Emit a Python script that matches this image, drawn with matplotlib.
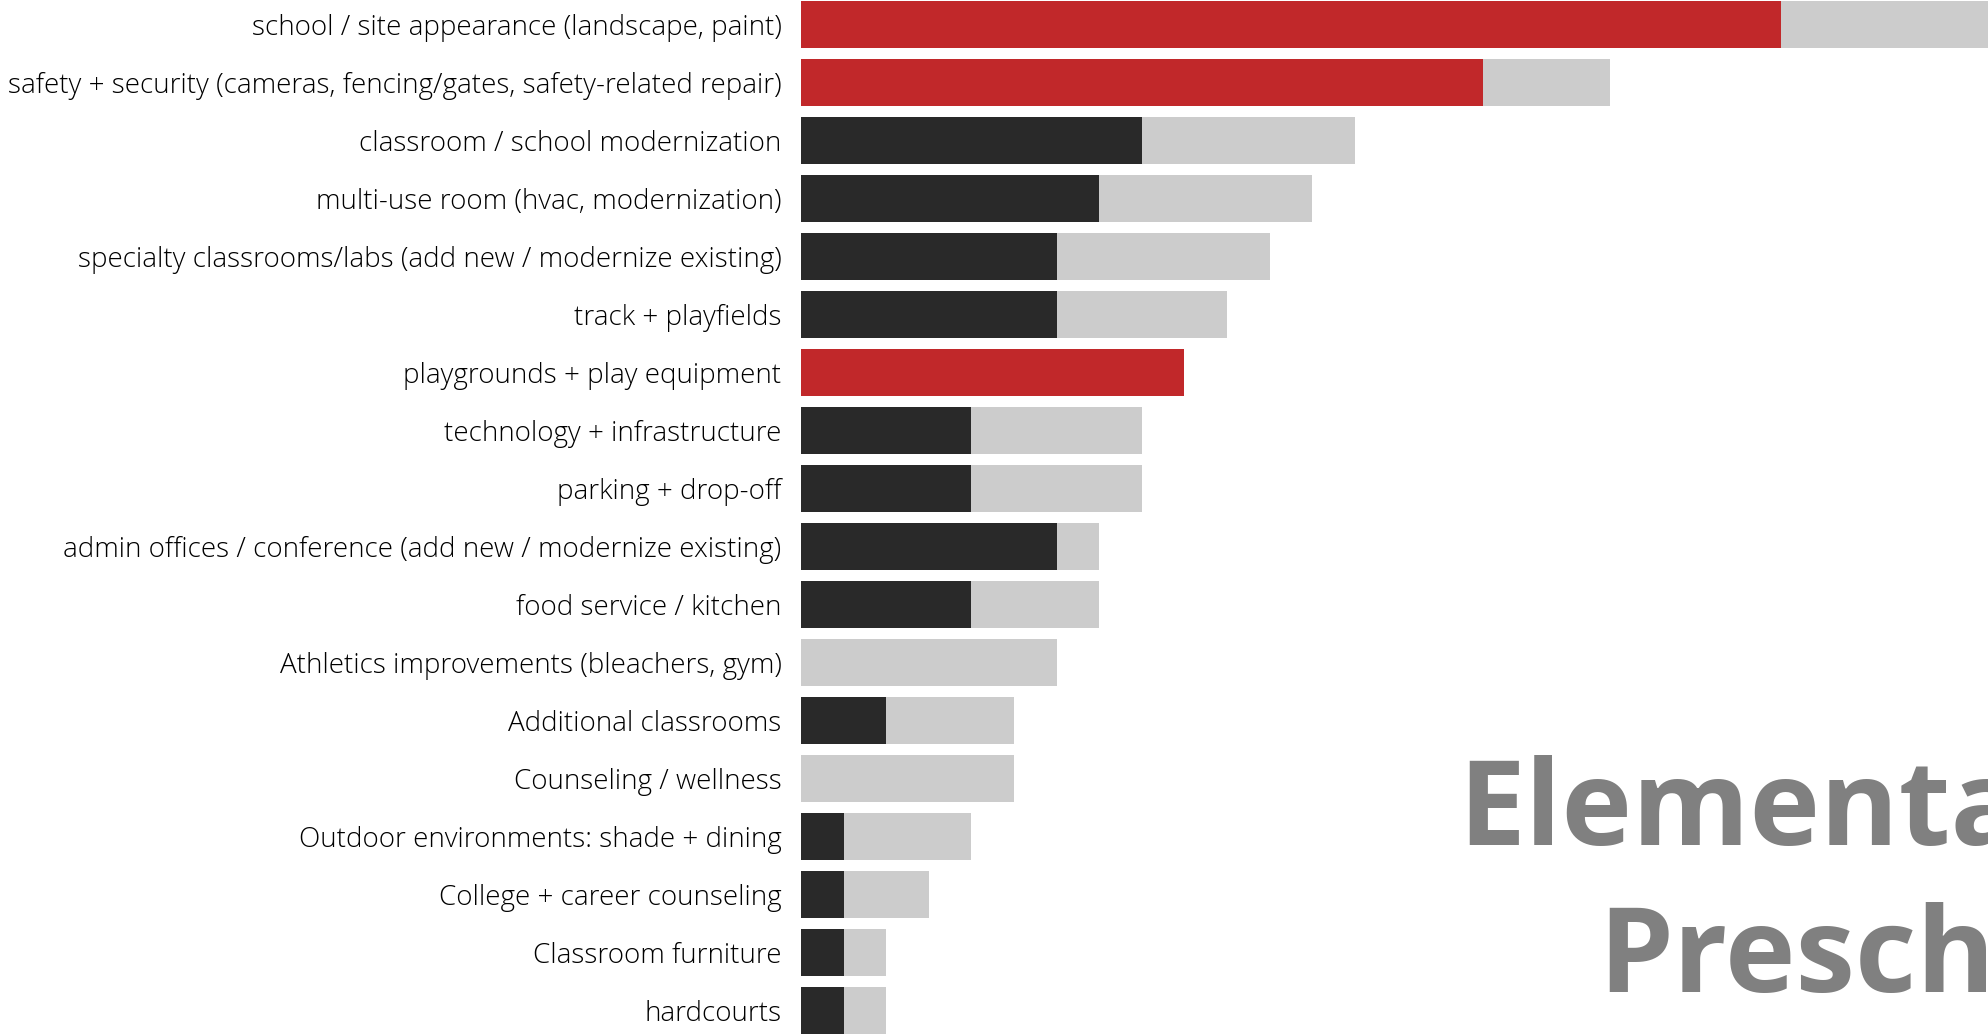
import matplotlib
matplotlib.use('Agg')
import matplotlib.pyplot as plt

# project categories, top to bottom
categories = [
    'school / site appearance (landscape, paint)',
    'safety + security (cameras, fencing/gates, safety-related repair)',
    'classroom / school modernization',
    'multi-use room (hvac, modernization)',
    'specialty classrooms/labs (add new / modernize existing)',
    'track + playfields',
    'playgrounds + play equipment',
    'technology + infrastructure',
    'parking + drop-off',
    'admin offices / conference (add new / modernize existing)',
    'food service / kitchen',
    'Athletics improvements (bleachers, gym)',
    'Additional classrooms',
    'Counseling / wellness',
    'Outdoor environments: shade + dining',
    'College + career counseling',
    'Classroom furniture',
    'hardcourts',
]
# votes for the top choice vs. all votes
first_votes = [23, 16, 8, 7, 6, 6, 9, 4, 4, 6, 4, 0, 2, 0, 1, 1, 1, 1]
total_votes = [29, 19, 13, 12, 11, 10, 9, 8, 8, 7, 7, 6, 5, 5, 4, 3, 2, 2]
# categories picked as top priorities
top_picks = [
    'school / site appearance (landscape, paint)',
    'safety + security (cameras, fencing/gates, safety-related repair)',
    'playgrounds + play equipment',
]

RED = '#c1282a'
DARK = '#292929'
GREY = '#cccccc'

W, H = 1988, 1034
fig = plt.figure(figsize=(W / 100, H / 100), dpi=100)
ax = fig.add_axes([801 / W, 0, 1 - 801 / W, 1])

y = list(range(len(categories)))
front_colors = [RED if c in top_picks else DARK for c in categories]

ax.barh(y, total_votes, height=0.81, color=GREY, linewidth=0)
ax.barh(y, first_votes, height=0.81, color=front_colors, linewidth=0)

ax.set_xlim(0, (W - 801) / 42.6)
ax.set_ylim(17 + (H - 1010.6) / 58, -24.7 / 58)

ax.set_yticks(y)
ax.set_yticklabels(categories, fontsize=20, family='Open Sans',
                   fontweight='light', color='#000000')
ax.tick_params(axis='y', length=0, pad=14)
ax.tick_params(axis='x', bottom=False, labelbottom=False)
for s in ax.spines.values():
    s.set_visible(False)

fig.text(1458 / W, 1 - 845 / H, 'Elementary', fontsize=86, family='Open Sans',
         fontweight='bold', color='#808080', va='baseline', ha='left')
fig.text(1598 / W, 1 - 992 / H, 'Preschool', fontsize=86, family='Open Sans',
         fontweight='bold', color='#808080', va='baseline', ha='left')

fig.savefig('out.png', dpi=100, facecolor='white')
